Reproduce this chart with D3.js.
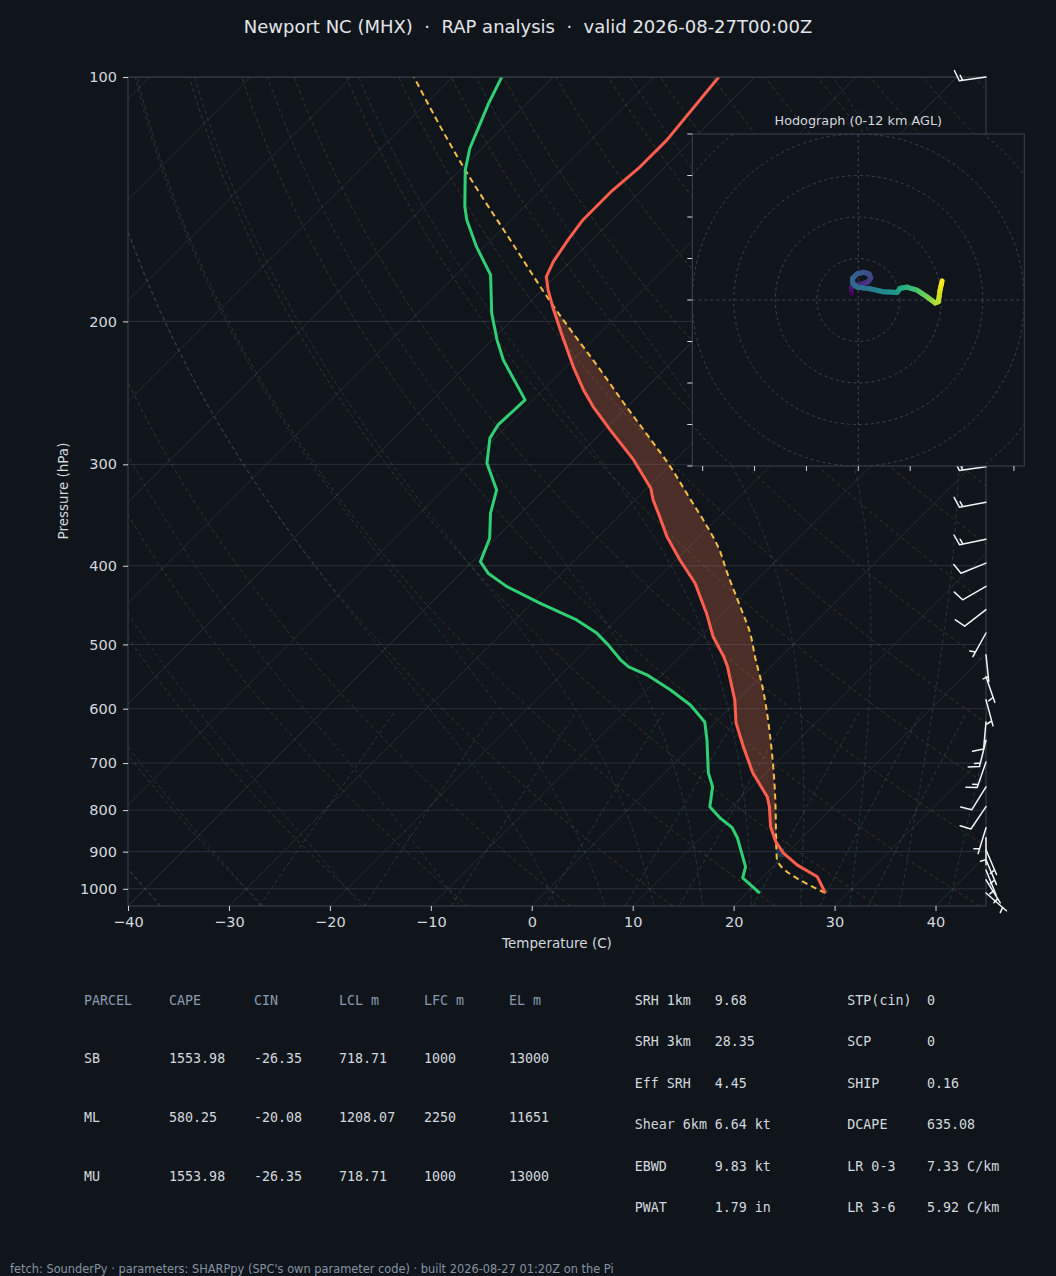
<!DOCTYPE html>
<html>
<head>
<meta charset="utf-8">
<script src="https://cdn.jsdelivr.net/npm/d3@7"></script>
<style>
  html, body { margin: 0; padding: 0; background: #10141b; }
  svg { display: block; font-family: "DejaVu Sans", sans-serif; }
</style>
</head>
<body>
<svg id="chart" width="1056" height="1276"></svg>
<script>
// ---- sounding (hPa / degC) ----
const envP = [1012, 966.6, 934.3, 903.7, 875.0, 838.5, 792.2, 770.1, 719.7, 668.6, 624.7, 585.3, 532.8, 517.5,
  489.3, 457.6, 420.3, 393.5, 368.3, 348.0, 331.9, 321.0, 296.3, 272.1, 254.7, 242.9, 227.5, 206.9, 192.7,
  183.0, 176.2, 168.8, 158.8, 150.0, 137.9, 129.0, 119.6, 100];
const envT = [27.8, 25.4, 22.2, 19.7, 17.8, 15.8, 13.7, 12.5, 8.7, 5.2, 2.1, -0.3, -4.3, -5.7,
  -8.7, -11.7, -15.8, -19.6, -23.2, -25.9, -28.2, -29.6, -34.1, -39.4, -43.4, -46.0, -49.3, -53.8, -57.1,
  -59.4, -60.9, -61.7, -62.4, -62.9, -62.9, -62.5, -62.5, -63.6];

const dewP = [1012, 969.3, 939.6, 865.1, 840.9, 817.6, 792.2, 748.6, 719.7, 655.5, 622.9, 593.7, 568.7, 545.0,
  532.8, 522.3, 500.6, 484.2, 466.4, 444.8, 424.4, 408.5, 395.4, 370.0, 344.6, 322.6, 299.1, 278.5, 268.3,
  249.9, 223.2, 210.9, 195.4, 175.3, 161.8, 150.0, 144.5, 130.2, 122.4, 107.7, 100];
const dewTd = [21.3, 18.1, 17.3, 13.6, 12.1, 9.9, 7.8, 6.1, 4.3, 0.9, -1.1, -4.2, -7.7, -11.5,
  -14.1, -15.6, -18.3, -20.6, -23.9, -29.2, -34.1, -37.3, -39.2, -40.6, -43.0, -44.7, -48.3, -50.5, -51.0,
  -50.8, -56.9, -59.5, -62.7, -66.6, -70.8, -74.4, -75.9, -79.5, -81.2, -83.8, -85.1];

const parcelP = [1012, 916.0, 762.0, 655.5, 563.4, 517.5, 484.2, 449.2, 408.5, 380.0, 358.0, 330.0, 302.0,
  277.0, 254.7, 229.6, 191.8, 158.8, 130.2, 100];
const parcelT = [27.8, 19.5, 12.9, 7.2, 1.1, -2.6, -5.4, -9.0, -13.6, -17.0, -20.2, -24.8, -29.8,
  -35.0, -40.1, -46.3, -57.2, -68.1, -79.5, -93.8];

// wind barbs: pressure, speed (kt), direction (deg from)
const barbP   = [100, 125, 150, 175, 200, 225, 250, 275, 302, 334, 371, 397, 424, 453, 484, 515, 548, 585,
  623, 656, 698, 749, 792, 841, 865, 895, 921, 948, 975, 1012];
const barbSpd = [15, 20, 20, 20, 20, 15, 15, 15, 15, 15, 15, 10, 10, 10, 5, 5, 5, 5,
  10, 15, 15, 10, 10, 5, 5, 5, 5, 5, 5, 5];
const barbDir = [262, 265, 268, 272, 275, 278, 270, 265, 262, 259, 258, 248, 240, 232, 209, 174, 161, 165,
  185, 194, 199, 212, 214, 197, 180, 157, 157, 158, 148, 131];

// hodograph trace (u, v) and height km
const hodoU = [-1.6, -1.7, -0.8, 0.9, 2.3, 3.0, 2.6, 1.2, -0.3, -1.4, -1.3, -0.3, 2.8, 6.0, 9.3, 10.1, 11.7,
  14.1, 16.5, 18.5, 19.3, 19.7, 20.2];
const hodoV = [1.6, 3.1, 3.6, 3.9, 4.3, 5.3, 6.3, 6.7, 6.3, 5.2, 3.9, 3.1, 2.7, 2.0, 1.8, 2.8, 3.1,
  2.4, 0.8, -0.7, -0.4, 2.4, 4.6];
const hodoZ = [0, 0.5, 1.0, 1.4, 1.8, 2.2, 2.6, 3.0, 3.3, 3.6, 3.9, 4.2, 4.7, 5.5, 6.3, 7.0, 7.6,
  8.4, 9.3, 10.2, 10.7, 11.3, 12.0];

const presTicks = [100, 200, 300, 400, 500, 600, 700, 800, 900, 1000];
const tempTicks = [-40, -30, -20, -10, 0, 10, 20, 30, 40];
const hodoTicksY = [-40, -30, -20, -10, 0, 10, 20, 30, 40];
const hodoTicksX = [-37.5, -25, -12.5, 0, 12.5, 25, 37.5];
const hodoRings = [10, 20, 30, 40, 50, 60];
const mixRatios = [0.0004, 0.001, 0.002, 0.004, 0.007, 0.01, 0.016, 0.024, 0.032];

const parcelCols = ["PARCEL", "CAPE", "CIN", "LCL m", "LFC m", "EL m"];
const parcelRows = [
  ["SB", "1553.98", "-26.35", "718.71", "1000", "13000"],
  ["ML", "580.25", "-20.08", "1208.07", "2250", "11651"],
  ["MU", "1553.98", "-26.35", "718.71", "1000", "13000"]
];
const paramsA = [["SRH 1km", "9.68"], ["SRH 3km", "28.35"], ["Eff SRH", "4.45"],
  ["Shear 6km", "6.64 kt"], ["EBWD", "9.83 kt"], ["PWAT", "1.79 in"]];
const paramsB = [["STP(cin)", "0"], ["SCP", "0"], ["SHIP", "0.16"],
  ["DCAPE", "635.08"], ["LR 0-3", "7.33 C/km"], ["LR 3-6", "5.92 C/km"]];

const titleText = "Newport NC (MHX)  \u00b7  RAP analysis  \u00b7  valid 2026-08-27T00:00Z";
const footText = "fetch: SounderPy \u00b7 parameters: SHARPpy (SPC's own parameter code) \u00b7 built 2026-08-27 01:20Z on the Pi";

// ---- look ----
const W = 1056, H = 1276;
const BG = "#10141b", GRID = "#29313b", SPINE = "#3b4552", TXT = "#d3d9df";
const MONO = "'DejaVu Sans Mono', monospace";
const plot = {left: 128, right: 986, top: 77, bottom: 906};

const x = d3.scaleLinear().domain([-40, 45]).range([plot.left, plot.right]);
const y = d3.scaleLog().domain([1050, 100]).range([plot.bottom, plot.top]);
// 45 degree skew: one pixel right for every pixel up
const skew = (t, p) => x(t) + (plot.bottom - y(p));

const svg = d3.select("#chart");
svg.append("rect").attr("width", W).attr("height", H).attr("fill", BG);

const defs = svg.append("defs");
defs.append("clipPath").attr("id", "plotClip").append("rect")
  .attr("x", plot.left).attr("y", plot.top)
  .attr("width", plot.right - plot.left).attr("height", plot.bottom - plot.top);

const g = svg.append("g").attr("clip-path", "url(#plotClip)");
const line = d3.line().x(d => skew(d.t, d.p)).y(d => y(d.p));

// pressure grid
g.selectAll(".pgrid").data(presTicks).enter().append("line")
  .attr("x1", plot.left).attr("x2", plot.right)
  .attr("y1", d => y(d)).attr("y2", d => y(d))
  .attr("stroke", GRID).attr("stroke-width", 1);

// isotherms
g.selectAll(".iso").data(d3.range(-130, 50, 10)).enter().append("path")
  .attr("d", t => line([{t: t, p: 1050}, {t: t, p: 100}]))
  .attr("stroke", GRID).attr("stroke-width", 0.9).attr("fill", "none");

// thermodynamic guide lines
const pGrid = d3.range(0, 91).map(i => 1050 * Math.pow(100 / 1050, i / 90));
const Rd = 287.04749, Cp = 1005.7, Lv = 2.501e6, eps = 0.622;
function satVap(T) { const tc = T - 273.15; return 6.112 * Math.exp(17.67 * tc / (tc + 243.5)); }
function moistRate(p, T) {
  const e = Math.min(satVap(T), p * 0.95);
  const rs = eps * e / (p - e);
  return (1 / p) * (Rd * T + Lv * rs) / (Cp + Lv * Lv * rs * eps / (Rd * T * T));
}
function moistAdiabat(t0) {
  const out = new Map();
  const walk = (pTargets) => {
    let p = 1000, T = t0 + 273.15;
    pTargets.forEach(pt => {
      const n = Math.max(1, Math.ceil(Math.abs(pt - p) / 5));
      const h = (pt - p) / n;
      for (let i = 0; i < n; i++) {
        const k1 = moistRate(p, T), k2 = moistRate(p + h / 2, T + h * k1 / 2);
        const k3 = moistRate(p + h / 2, T + h * k2 / 2), k4 = moistRate(p + h, T + h * k3);
        T += h * (k1 + 2 * k2 + 2 * k3 + k4) / 6; p += h;
      }
      out.set(pt, T - 273.15);
    });
  };
  walk(pGrid.filter(p => p <= 1000));
  walk(pGrid.filter(p => p > 1000).reverse());
  return pGrid.map(p => ({p: p, t: out.get(p)}));
}

g.selectAll(".dry").data(d3.range(-40, 246, 10)).enter().append("path")
  .attr("d", t0 => line(pGrid.map(p => ({p: p, t: (t0 + 273.15) * Math.pow(p / 1000, Rd / Cp) - 273.15}))))
  .attr("fill", "none").attr("stroke", "#b57a45").attr("stroke-opacity", 0.32)
  .attr("stroke-width", 0.9).attr("stroke-dasharray", "4,3");

g.selectAll(".moist").data([-40, -30, -20, -10].concat(d3.range(0, 96, 5))).enter().append("path")
  .attr("d", t0 => line(moistAdiabat(t0)))
  .attr("fill", "none").attr("stroke", "#5d8ea6").attr("stroke-opacity", 0.3)
  .attr("stroke-width", 0.9).attr("stroke-dasharray", "4,3");

g.selectAll(".mix").data(mixRatios).enter().append("path")
  .attr("d", w => line(pGrid.filter(p => p >= 600).map(p => {
    const e = p * w / (eps + w), l = Math.log(e / 6.112);
    return {p: p, t: 243.5 * l / (17.67 - l)};
  })))
  .attr("fill", "none").attr("stroke", "#4fa486").attr("stroke-opacity", 0.33)
  .attr("stroke-width", 0.9).attr("stroke-dasharray", "4,3");

// CAPE / CIN shading
function interpLogP(ps, ts, p) {
  for (let i = 0; i < ps.length - 1; i++) {
    if (p <= ps[i] && p >= ps[i + 1]) {
      const f = (Math.log(p) - Math.log(ps[i])) / (Math.log(ps[i + 1]) - Math.log(ps[i]));
      return ts[i] + f * (ts[i + 1] - ts[i]);
    }
  }
  return NaN;
}
const pSfc = envP[0], pLcl = parcelP[1];
const rows = d3.range(0, 801).map(i => {
  const p = pSfc * Math.pow(100 / pSfc, i / 800);
  return {p: p, te: interpLogP(envP, envT, p), tp: interpLogP(parcelP, parcelT, p)};
});
const lfcRow = rows.find(r => r.p <= pLcl && r.tp >= r.te);
const pLfc = lfcRow ? lfcRow.p : pLcl;
const band = () => d3.area().y(r => y(r.p)).x0(r => skew(r.te, r.p)).x1(r => skew(r.tp, r.p));

g.append("path")
  .attr("d", band().defined(r => r.p <= pLfc && r.tp >= r.te)(rows))
  .attr("fill", "#ff7a50").attr("fill-opacity", 0.25);
g.append("path")
  .attr("d", band().defined(r => r.p <= pLcl && r.p >= pLfc && r.tp <= r.te)(rows))
  .attr("fill", "#4a80d4").attr("fill-opacity", 0.25);

// profiles
const toPts = (ps, ts) => ps.map((p, i) => ({p: p, t: ts[i]}));
g.append("path").attr("d", d3.line().curve(d3.curveMonotoneY)
    .x(d => skew(d.t, d.p)).y(d => y(d.p))(toPts(parcelP, parcelT)))
  .attr("fill", "none").attr("stroke", "#f4bd45").attr("stroke-width", 2)
  .attr("stroke-dasharray", "6,4");
g.append("path").attr("d", line(toPts(dewP, dewTd)))
  .attr("fill", "none").attr("stroke", "#2fcf74").attr("stroke-width", 3)
  .attr("stroke-linejoin", "round");
g.append("path").attr("d", line(toPts(envP, envT)))
  .attr("fill", "none").attr("stroke", "#ff5e4e").attr("stroke-width", 3)
  .attr("stroke-linejoin", "round");

// frame
svg.append("rect").attr("x", plot.left).attr("y", plot.top)
  .attr("width", plot.right - plot.left).attr("height", plot.bottom - plot.top)
  .attr("fill", "none").attr("stroke", SPINE).attr("stroke-width", 1);

// axes
const yAxis = svg.append("g").attr("transform", `translate(${plot.left},0)`)
  .call(d3.axisLeft(y).tickValues(presTicks).tickFormat(d3.format("d")).tickSize(5).tickPadding(6));
const xAxis = svg.append("g").attr("transform", `translate(0,${plot.bottom})`)
  .call(d3.axisBottom(x).tickValues(tempTicks).tickFormat(d3.format("d")).tickSize(5).tickPadding(6));
[yAxis, xAxis].forEach(a => {
  a.select(".domain").remove();
  a.selectAll(".tick line").attr("stroke", TXT);
  a.selectAll(".tick text").attr("fill", TXT).style("font-size", "14.5px")
    .style("font-family", "'DejaVu Sans', sans-serif");
});

svg.append("text").attr("x", (plot.left + plot.right) / 2).attr("y", 948)
  .attr("text-anchor", "middle").attr("fill", TXT).style("font-size", "13.5px")
  .text("Temperature (C)");
svg.append("text").attr("transform", `translate(68,491) rotate(-90)`)
  .attr("text-anchor", "middle").attr("fill", TXT).style("font-size", "13.5px")
  .text("Pressure (hPa)");

// wind barbs along right edge
function barbPath(bx, by, spd, dir) {
  const L = 27, fh = 0.4 * L, fw = 0.25 * L, sp = 0.125 * L;
  const r = dir * Math.PI / 180;
  const d = [Math.sin(r), -Math.cos(r)];
  const n = [Math.cos(r), Math.sin(r)];
  const pt = (a, b) => [bx + d[0] * a + n[0] * b, by + d[1] * a + n[1] * b];
  let s = Math.round(spd / 5) * 5;
  const flags = Math.floor(s / 50); s -= flags * 50;
  const full = Math.floor(s / 10); s -= full * 10;
  const half = s >= 5;
  const segs = [[pt(0, 0), pt(L, 0)]];
  let off = L;
  for (let i = 0; i < flags; i++) {
    segs.push([pt(off, 0), pt(off - fw / 2, fh), pt(off - fw, 0)]);
    off -= fw + sp;
  }
  for (let i = 0; i < full; i++) {
    segs.push([pt(off, 0), pt(off + fw / 2, fh)]);
    off -= sp;
  }
  if (half) {
    if (off === L) off -= 1.5 * sp;
    segs.push([pt(off, 0), pt(off + fw / 4, fh / 2)]);
  }
  return segs.map(sg => "M" + sg.map(q => q[0].toFixed(1) + "," + q[1].toFixed(1)).join("L")).join("");
}
svg.append("g").selectAll("path").data(barbP).enter().append("path")
  .attr("d", (p, i) => barbPath(plot.right, y(p), barbSpd[i], barbDir[i]))
  .attr("fill", "none").attr("stroke", "#f2f4f6").attr("stroke-width", 1.5)
  .attr("stroke-linecap", "round").attr("stroke-linejoin", "round");

// hodograph inset
const hodo = {left: 692.3, right: 1024.3, top: 134, bottom: 466};
const hx = d3.scaleLinear().domain([-40, 40]).range([hodo.left, hodo.right]);
const hy = d3.scaleLinear().domain([-40, 40]).range([hodo.bottom, hodo.top]);
defs.append("clipPath").attr("id", "hodoClip").append("rect")
  .attr("x", hodo.left).attr("y", hodo.top)
  .attr("width", hodo.right - hodo.left).attr("height", hodo.bottom - hodo.top);
svg.append("rect").attr("x", hodo.left).attr("y", hodo.top)
  .attr("width", hodo.right - hodo.left).attr("height", hodo.bottom - hodo.top)
  .attr("fill", BG);
const hg = svg.append("g").attr("clip-path", "url(#hodoClip)");
hg.selectAll("circle").data(hodoRings).enter().append("circle")
  .attr("cx", hx(0)).attr("cy", hy(0)).attr("r", r => hx(r) - hx(0))
  .attr("fill", "none").attr("stroke", SPINE).attr("stroke-width", 1).attr("stroke-dasharray", "3,3");
hg.append("line").attr("x1", hodo.left).attr("x2", hodo.right).attr("y1", hy(0)).attr("y2", hy(0))
  .attr("stroke", SPINE).attr("stroke-dasharray", "3,3");
hg.append("line").attr("y1", hodo.top).attr("y2", hodo.bottom).attr("x1", hx(0)).attr("x2", hx(0))
  .attr("stroke", SPINE).attr("stroke-dasharray", "3,3");

const viridis = d3.scaleSequential(d3.interpolateViridis).domain([0, 12]);
const hodoSegs = [];
for (let i = 0; i < hodoU.length - 1; i++) {
  const sub = 4;
  for (let k = 0; k < sub; k++) {
    const a = k / sub, b = (k + 1) / sub;
    hodoSegs.push({
      u0: hodoU[i] + a * (hodoU[i + 1] - hodoU[i]), v0: hodoV[i] + a * (hodoV[i + 1] - hodoV[i]),
      u1: hodoU[i] + b * (hodoU[i + 1] - hodoU[i]), v1: hodoV[i] + b * (hodoV[i + 1] - hodoV[i]),
      z: hodoZ[i] + (a + b) / 2 * (hodoZ[i + 1] - hodoZ[i])
    });
  }
}
hg.selectAll(".hseg").data(hodoSegs).enter().append("line")
  .attr("x1", s => hx(s.u0)).attr("y1", s => hy(s.v0))
  .attr("x2", s => hx(s.u1)).attr("y2", s => hy(s.v1))
  .attr("stroke", s => viridis(s.z)).attr("stroke-width", 5).attr("stroke-linecap", "round");

svg.append("rect").attr("x", hodo.left).attr("y", hodo.top)
  .attr("width", hodo.right - hodo.left).attr("height", hodo.bottom - hodo.top)
  .attr("fill", "none").attr("stroke", SPINE).attr("stroke-width", 1);
svg.append("g").selectAll("line").data(hodoTicksY).enter().append("line")
  .attr("x1", hodo.left - 5).attr("x2", hodo.left).attr("y1", v => hy(v)).attr("y2", v => hy(v))
  .attr("stroke", TXT).attr("stroke-width", 1);
svg.append("g").selectAll("line").data(hodoTicksX).enter().append("line")
  .attr("y1", hodo.bottom).attr("y2", hodo.bottom + 5).attr("x1", u => hx(u)).attr("x2", u => hx(u))
  .attr("stroke", TXT).attr("stroke-width", 1);
svg.append("text").attr("x", (hodo.left + hodo.right) / 2).attr("y", 124.5)
  .attr("text-anchor", "middle").attr("fill", TXT).style("font-size", "12.8px")
  .text("Hodograph (0-12 km AGL)");

// title and footer
svg.append("text").attr("x", W / 2).attr("y", 33).attr("text-anchor", "middle")
  .attr("xml:space", "preserve").style("white-space", "pre")
  .attr("fill", "#e2e6ea").style("font-size", "18px").text(titleText);
svg.append("text").attr("x", 10).attr("y", 1273).attr("fill", "#8593a3")
  .style("font-size", "11.4px").text(footText);

// parameter tables
const colX = [84, 169, 254, 339, 424, 509];
const rowY = [1000, 1058.5, 1117.3, 1176];
const tbl = svg.append("g");
const cell = (xx, yy, txt, col) => tbl.append("text").attr("x", xx).attr("y", yy).attr("dy", "0.36em")
  .attr("fill", col).style("font-family", MONO).style("font-size", "13.33px").text(txt);
parcelCols.forEach((c, j) => cell(colX[j], rowY[0], c, "#8a9ab0"));
parcelRows.forEach((r, i) => r.forEach((c, j) => cell(colX[j], rowY[i + 1], c, TXT)));
[[paramsA, 634.7, 714.7], [paramsB, 847.3, 927]].forEach(([list, xl, xv]) => {
  list.forEach((r, i) => {
    const yy = 1000 + i * 41.46;
    cell(xl, yy, r[0], TXT);
    cell(xv, yy, r[1], TXT);
  });
});
</script>
</body>
</html>
